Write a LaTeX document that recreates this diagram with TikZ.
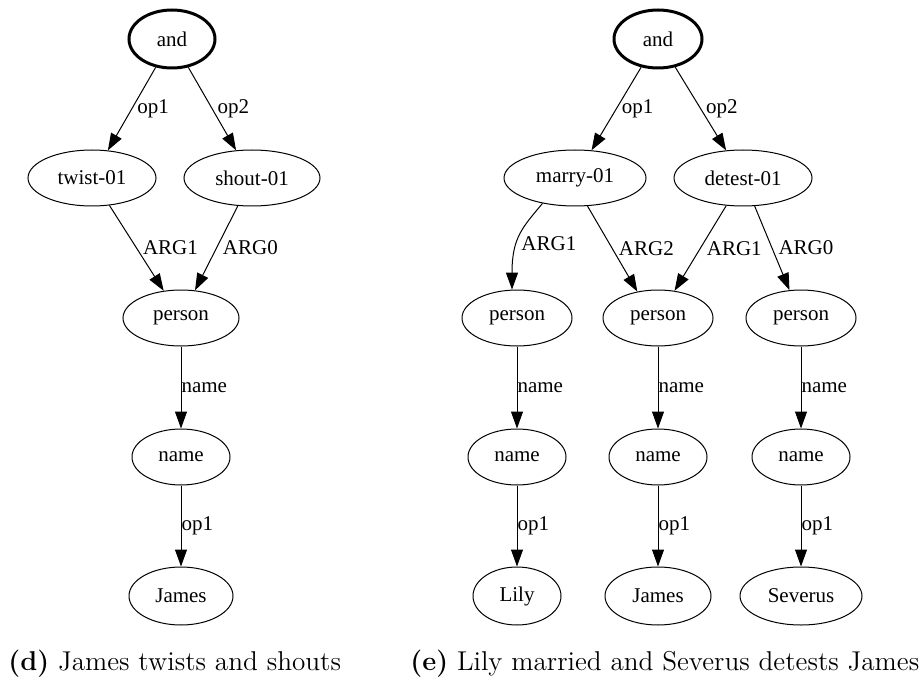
\documentclass[tikz,border=0pt]{standalone}
\usepackage{fontspec}
\newfontfamily\graphfont{Liberation Serif}
\usetikzlibrary{shapes.geometric,arrows.meta}
\begin{document}
\begin{tikzpicture}[x=0.5pt,y=-0.5pt,
  amr/.style={ellipse,draw,line width=0.5pt,inner sep=0pt,minimum height=28pt,
    font=\graphfont\fontsize{10.5}{12}\selectfont},
  root/.style={amr,line width=1.5pt,minimum height=29pt},
  rel/.style={-{Triangle[length=8.5pt,width=6pt]},line width=0.5pt},
  lbl/.style={anchor=west,inner sep=0pt,font=\graphfont\fontsize{10.5}{12}\selectfont},
  captext/.style={anchor=base west,inner sep=0pt,font=\fontsize{13.6}{16}\selectfont}]
\useasboundingbox (0,0) rectangle (920,679);

% (d) James twists and shouts
\node[root,minimum width=43pt] (a1) at (172,39) {and};
\node[amr,minimum width=64pt] (tw) at (92,178) {twist-01};
\node[amr,minimum width=68pt] (sh) at (252,178) {shout-01};
\node[amr,minimum width=58pt] (pL) at (181,318) {person};
\node[amr,minimum width=49pt] (nL) at (181,457) {name};
\node[amr,minimum width=52pt,minimum height=29pt] (jL) at (181,596) {James};

\draw[rel] (a1) -- node[lbl,xshift=2.5pt] {op1} (tw);
\draw[rel] (a1) -- node[lbl,xshift=2.5pt] {op2} (sh);
\draw[rel] (tw) -- node[lbl,xshift=3pt] {ARG1} (pL);
\draw[rel] (sh) -- node[lbl,xshift=3pt] {ARG0} (pL);
\draw[rel] (pL) -- node[lbl] {name} (nL);
\draw[rel] (nL) -- node[lbl] {op1} (jL);

% (e) Lily married and Severus detests James
\node[root,minimum width=44pt] (a2) at (658,39) {and};
\node[amr,minimum width=71pt] (ma) at (575,178) {marry-01};
\node[amr,minimum width=69pt] (de) at (743,178) {detest-01};
\node[amr,minimum width=55pt] (p1) at (517,318) {person};
\node[amr,minimum width=55pt] (p2) at (658,318) {person};
\node[amr,minimum width=55pt] (p3) at (801,318) {person};
\node[amr,minimum width=49pt] (n1) at (517,457) {name};
\node[amr,minimum width=49pt] (n2) at (658,457) {name};
\node[amr,minimum width=49pt] (n3) at (801,457) {name};
\node[amr,minimum width=44pt,minimum height=29pt] (ly) at (517,596) {Lily};
\node[amr,minimum width=53pt,minimum height=29pt] (j2) at (658,596) {James};
\node[amr,minimum width=61pt,minimum height=29pt] (sv) at (801,596) {Severus};

\draw[rel] (a2) -- node[lbl,xshift=2.5pt] {op1} (ma);
\draw[rel] (a2) -- node[lbl,xshift=2.5pt] {op2} (de);
\draw[rel] (ma.-142) .. controls +(-20,24) and +(0,-52) .. node[lbl,pos=0.6,xshift=2pt] {ARG1} (p1.100);
\draw[rel] (ma.-66) -- node[lbl,xshift=3pt] {ARG2} (p2.128);
\draw[rel] (de) -- node[lbl,xshift=3pt] {ARG1} (p2);
\draw[rel] (de) -- node[lbl,xshift=3pt] {ARG0} (p3);
\draw[rel] (p1) -- node[lbl] {name} (n1);
\draw[rel] (p2) -- node[lbl] {name} (n2);
\draw[rel] (p3) -- node[lbl] {name} (n3);
\draw[rel] (n1) -- node[lbl] {op1} (ly);
\draw[rel] (n2) -- node[lbl] {op1} (j2);
\draw[rel] (n3) -- node[lbl] {op1} (sv);

% captions
\node[captext] (capd) at (8,670) {\textbf{(d)} James twists and shouts};
\node[captext] (cape) at (410,670) {\textbf{(e)} Lily married and Severus detests James};
\end{tikzpicture}
\end{document}
